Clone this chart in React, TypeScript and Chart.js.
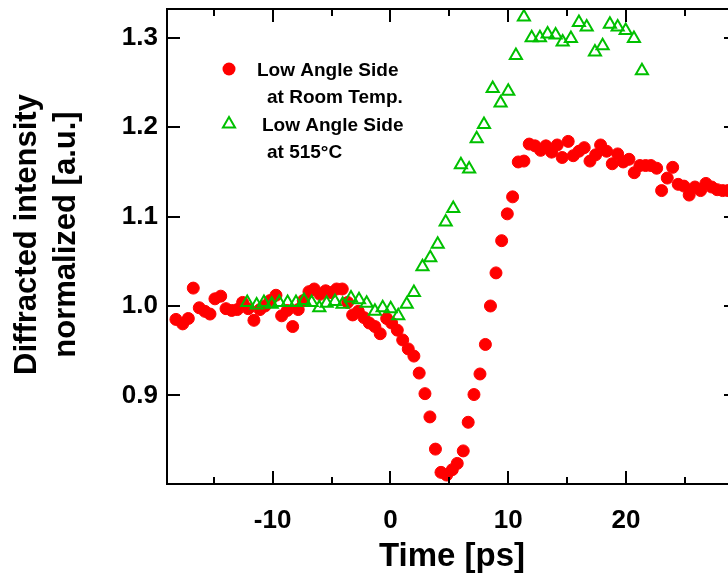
import React, { useEffect, useRef } from "react";
import { Chart, registerables } from "chart.js";

Chart.register(...registerables);

// Low angle side, room temperature (filled red circles)
const roomTempTime = [
  -18.21, -17.64, -17.16, -16.74, -16.23, -15.75, -15.32, -14.9, -14.41, -13.96,
  -13.48, -13.0, -12.55, -12.07, -11.59, -11.08, -10.65, -10.23, -9.72, -9.24,
  -8.76, -8.3, -7.83, -7.4, -6.92, -6.47, -5.98, -5.5, -5.05, -4.57,
  -4.09, -3.63, -3.21, -2.73, -2.25, -1.8, -1.32, -0.87, -0.32, 0.1,
  0.58, 1.04, 1.51, 1.99, 2.44, 2.93, 3.35, 3.82, 4.29, 4.77,
  5.25, 5.67, 6.18, 6.6, 7.09, 7.6, 8.06, 8.49, 8.96, 9.44,
  9.92, 10.37, 10.85, 11.33, 11.78, 12.27, 12.75, 13.2, 13.68, 14.16,
  14.58, 15.09, 15.52, 16.0, 16.45, 16.94, 17.42, 17.84, 18.35, 18.83,
  19.29, 19.76, 20.25, 20.7, 21.18, 21.66, 22.11, 22.6, 23.02, 23.5,
  23.96, 24.43, 24.92, 25.36, 25.85, 26.33, 26.78, 27.27, 27.74, 28.2, 28.65,
];
const roomTempIntensity = [
  0.985, 0.98, 0.986, 1.02, 0.998, 0.994, 0.991, 1.008, 1.011, 0.997,
  0.995, 0.996, 1.004, 0.997, 0.984, 0.996, 1.0, 1.006, 1.012, 0.989,
  0.995, 0.977, 0.996, 1.006, 1.016, 1.019, 1.013, 1.017, 1.015, 1.019,
  1.019, 1.004, 0.99, 0.994, 0.987, 0.981, 0.977, 0.969, 0.986, 0.981,
  0.973, 0.962, 0.952, 0.944, 0.925, 0.902, 0.876, 0.84, 0.814, 0.811,
  0.817, 0.824, 0.838, 0.87, 0.901, 0.924, 0.957, 1.0, 1.037, 1.073,
  1.103, 1.122, 1.161, 1.162, 1.181, 1.179, 1.174, 1.179, 1.172, 1.18,
  1.166, 1.184, 1.168, 1.173, 1.177, 1.162, 1.169, 1.18, 1.173, 1.159,
  1.17, 1.161, 1.164, 1.149, 1.157, 1.157, 1.157, 1.154, 1.129, 1.143,
  1.155, 1.136, 1.134, 1.124, 1.133, 1.129, 1.137, 1.133, 1.13, 1.129, 1.129,
];

// Low angle side, 515 °C (open green triangles)
const hotTime = [
  -12.16, -11.36, -10.74, -10.08, -9.44, -8.73, -8.02, -7.34, -6.69, -6.04,
  -5.42, -4.71, -4.06, -3.35, -2.67, -2.02, -1.32, -0.66, 0.02, 0.66,
  1.38, 1.99, 2.72, 3.38, 4.01, 4.69, 5.33, 5.98, 6.68, 7.32,
  7.94, 8.68, 9.35, 10.0, 10.65, 11.33, 11.99, 12.69, 13.34, 14.02,
  14.62, 15.32, 16.0, 16.66, 17.36, 18.01, 18.63, 19.29, 19.97, 20.67, 21.35,
];
const hotIntensity = [
  1.004, 1.001, 1.004, 1.002, 1.004, 1.004, 1.004, 1.006, 1.004, 0.998,
  1.003, 1.005, 1.002, 1.009, 1.007, 1.003, 0.994, 0.998, 0.997, 0.989,
  1.002, 1.015, 1.044, 1.054, 1.069, 1.094, 1.109, 1.158, 1.153, 1.187,
  1.203, 1.243, 1.227, 1.24, 1.28, 1.323, 1.3, 1.3, 1.304, 1.303,
  1.295, 1.299, 1.317, 1.312, 1.284, 1.291, 1.315, 1.312, 1.308, 1.299, 1.263,
];

// Axis ranges and ticks
const timeMin = -18.97;
const timeMax = 29.42;
const intensityMin = 0.801;
const intensityMax = 1.332;
const timeMajorTicks = [-10, 0, 10, 20];
const timeMinorTicks = [-15, -5, 5, 15, 25];
const intensityTicks = [0.9, 1.0, 1.1, 1.2, 1.3];

const yTitleLines = ["Diffracted intensity", "normalized [a.u.]"];
const legendRoom = ["Low Angle Side", "at Room Temp."];
const legendHot = ["Low Angle Side", "at 515°C"];

const RED = "#ff0000";
const GREEN = "#00c000";
const FONT = "'Liberation Sans', Arial, Helvetica, sans-serif";

const toPoints = (xs: number[], ys: number[]) => xs.map((x, i) => ({ x, y: ys[i] }));

const frameAndLegend = {
  id: "frameAndLegend",
  afterDraw(chart: any) {
    const { ctx, chartArea, scales } = chart;
    const { left, right, top, bottom } = chartArea;
    const xs = scales.x;
    const ys = scales.y;
    ctx.save();
    ctx.strokeStyle = "#000";
    ctx.lineWidth = 2;
    ctx.strokeRect(left, top, right - left, bottom - top);

    // inward tick marks on all four sides
    ctx.beginPath();
    const major = 13;
    const minor = 7;
    timeMajorTicks.forEach((v) => {
      const px = Math.round(xs.getPixelForValue(v));
      ctx.moveTo(px, bottom);
      ctx.lineTo(px, bottom - major);
      ctx.moveTo(px, top);
      ctx.lineTo(px, top + major);
    });
    timeMinorTicks.forEach((v) => {
      const px = Math.round(xs.getPixelForValue(v));
      ctx.moveTo(px, bottom);
      ctx.lineTo(px, bottom - minor);
      ctx.moveTo(px, top);
      ctx.lineTo(px, top + minor);
    });
    intensityTicks.forEach((v) => {
      const py = Math.round(ys.getPixelForValue(v));
      ctx.moveTo(left, py);
      ctx.lineTo(left + major, py);
      ctx.moveTo(right, py);
      ctx.lineTo(right - major, py);
    });
    ctx.stroke();

    // two-line rotated y axis title
    ctx.fillStyle = "#000";
    ctx.font = `bold 31px ${FONT}`;
    ctx.textAlign = "center";
    ctx.textBaseline = "middle";
    const titleCenterY = (top + bottom) / 2 - 12;
    yTitleLines.forEach((line, i) => {
      ctx.save();
      ctx.translate(27 + i * 39, titleCenterY);
      ctx.rotate(-Math.PI / 2);
      ctx.fillText(line, 0, 0);
      ctx.restore();
    });

    // legend
    const mx = left + 62;
    const row1 = top + 60;
    const row2 = top + 114;
    ctx.fillStyle = RED;
    ctx.beginPath();
    ctx.arc(mx, row1, 6.5, 0, Math.PI * 2);
    ctx.fill();

    const r = 7;
    ctx.strokeStyle = GREEN;
    ctx.lineWidth = 2;
    ctx.beginPath();
    for (let k = 0; k < 3; k++) {
      const a = (k * 2 * Math.PI) / 3;
      const px = mx + Math.sin(a) * r;
      const py = row2 + 1 - Math.cos(a) * r;
      if (k === 0) ctx.moveTo(px, py);
      else ctx.lineTo(px, py);
    }
    ctx.closePath();
    ctx.stroke();

    ctx.fillStyle = "#000";
    ctx.font = `bold 19px ${FONT}`;
    ctx.textBaseline = "alphabetic";
    ctx.textAlign = "left";
    ctx.fillText(legendRoom[0], left + 90, top + 67);
    ctx.fillText(legendRoom[1], left + 100, top + 94);
    ctx.fillText(legendHot[0], left + 95, top + 122);
    ctx.fillText(legendHot[1], left + 100, top + 149);
    ctx.restore();
  },
};

export default function App() {
  const canvasRef = useRef<HTMLCanvasElement | null>(null);

  useEffect(() => {
    const canvas = canvasRef.current;
    if (!canvas) return;
    const tickFont = { family: FONT, size: 26, weight: "bold" as const };
    const chart = new Chart(canvas, {
      type: "scatter",
      data: {
        datasets: [
          {
            label: "Low Angle Side at 515°C",
            data: toPoints(hotTime, hotIntensity),
            pointStyle: "triangle",
            pointRadius: 7,
            pointBorderWidth: 2,
            borderColor: GREEN,
            backgroundColor: "rgba(0,0,0,0)",
            showLine: false,
            order: 1,
          },
          {
            label: "Low Angle Side at Room Temp.",
            data: toPoints(roomTempTime, roomTempIntensity),
            pointStyle: "circle",
            pointRadius: 6,
            pointBorderWidth: 1,
            borderColor: RED,
            backgroundColor: RED,
            showLine: false,
            order: 2,
          },
        ],
      },
      options: {
        responsive: false,
        animation: false,
        devicePixelRatio: 1,
        layout: { padding: 0 },
        plugins: {
          legend: { display: false },
          tooltip: { enabled: false },
        },
        scales: {
          x: {
            type: "linear",
            position: "bottom",
            min: timeMin,
            max: timeMax,
            grid: { display: false, drawTicks: false, tickLength: 0 },
            border: { display: false },
            afterBuildTicks: (s: any) => {
              s.ticks = timeMajorTicks.map((value) => ({ value }));
            },
            afterFit: (s: any) => {
              s.height = 99;
              s.paddingLeft = 0;
              s.paddingRight = 0;
            },
            ticks: {
              font: tickFont,
              color: "#000",
              padding: 21,
              maxRotation: 0,
              autoSkip: false,
              callback: (v: any) => String(v),
            },
            title: {
              display: true,
              text: "Time [ps]",
              color: "#000",
              font: { family: FONT, size: 33, weight: "bold" },
              padding: { top: 0, bottom: 6 },
            },
          },
          xTop: {
            type: "linear",
            position: "top",
            min: timeMin,
            max: timeMax,
            grid: { display: false, drawTicks: false, tickLength: 0 },
            border: { display: false },
            ticks: { display: false },
            afterFit: (s: any) => {
              s.height = 6;
              s.paddingLeft = 0;
              s.paddingRight = 0;
            },
          },
          y: {
            type: "linear",
            position: "left",
            min: intensityMin,
            max: intensityMax,
            grid: { display: false, drawTicks: false, tickLength: 0 },
            border: { display: false },
            afterBuildTicks: (s: any) => {
              s.ticks = intensityTicks.map((value) => ({ value }));
            },
            afterFit: (s: any) => {
              s.width = 167;
              s.paddingTop = 0;
              s.paddingBottom = 0;
            },
            ticks: {
              font: tickFont,
              color: "#000",
              padding: 9,
              callback: (v: any) => Number(v).toFixed(1),
            },
          },
          yRight: {
            type: "linear",
            position: "right",
            min: intensityMin,
            max: intensityMax,
            grid: { display: false, drawTicks: false, tickLength: 0 },
            border: { display: false },
            ticks: { display: false },
            afterFit: (s: any) => {
              s.width = 23;
              s.paddingTop = 0;
              s.paddingBottom = 0;
            },
          },
        },
      },
      plugins: [frameAndLegend],
    });
    return () => chart.destroy();
  }, []);

  return (
    <div
      style={{
        position: "fixed",
        left: 0,
        top: 0,
        width: 728,
        height: 583,
        overflow: "hidden",
        background: "#fff",
      }}
    >
      <canvas ref={canvasRef} width={760} height={583} style={{ display: "block" }} />
    </div>
  );
}
